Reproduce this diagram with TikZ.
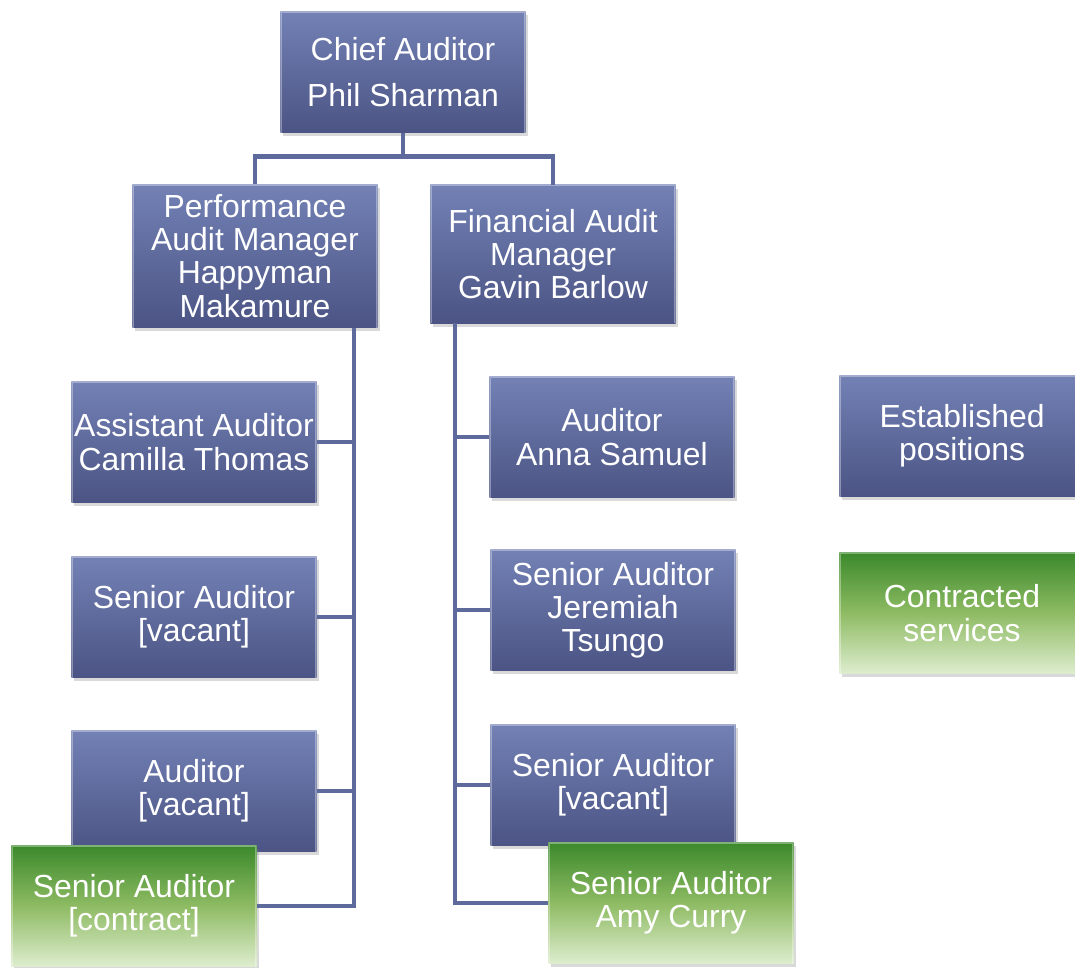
\documentclass[tikz,border=0pt]{standalone}
\usepackage{fontspec}
\setmainfont{Liberation Sans}
\usetikzlibrary{shadows,calc}

\definecolor{posttop}{HTML}{7381B5}
\definecolor{postbot}{HTML}{4B5484}
\definecolor{contop}{HTML}{3B892B}
\definecolor{conmid}{HTML}{8EBB63}
\definecolor{conbot}{HTML}{DEEDCF}
\definecolor{linkcol}{HTML}{5F6A9C}

\tikzset{
  post/.style={rectangle, minimum width=6.125cm, minimum height=3.03cm, inner sep=1pt,
    align=center, text=white, font=\fontsize{22.7}{23.6}\selectfont,
    top color=posttop, bottom color=postbot,
    drop shadow={shadow xshift=1.5pt, shadow yshift=-2.5pt, opacity=0.3},
    path picture={\draw[white, opacity=0.35, line width=2pt]
      (path picture bounding box.south west) |- (path picture bounding box.north east) -- (path picture bounding box.south east);}},
  contract/.style={post, top color=contop, bottom color=conbot, middle color=conmid},
  link/.style={draw=linkcol, line width=3.5pt}
}

\begin{document}
\begin{tikzpicture}[x=0.025cm, y=-0.025cm]
\useasboundingbox (0,0) rectangle (1075,967);

\node[post, font=\fontsize{22.7}{32.6}\selectfont] (chief) at (403,72) {Chief Auditor\\Phil Sharman};
\node[post, minimum height=3.58cm] (perf) at (255,256) {Performance\\Audit Manager\\Happyman\\Makamure};
\node[post, minimum height=3.45cm] (fin) at (553,254) {Financial Audit\\Manager\\Gavin Barlow};

\node[post] (asst) at (194,442) {Assistant Auditor\\Camilla Thomas};
\node[post] (lsen) at (194,617) {Senior Auditor\\{[vacant]}};
\node[post] (laud) at (194,791) {Auditor\\{[vacant]}};
\node[contract] (lcon) at (134,906) {Senior Auditor\\{[contract]}};

\node[post] (anna) at (612,437) {Auditor\\Anna Samuel};
\node[post] (jere) at (613,610) {Senior Auditor\\Jeremiah\\Tsungo};
\node[post] (rsen) at (613,785) {Senior Auditor\\{[vacant]}};
\node[contract] (amy) at (671,903) {Senior Auditor\\Amy Curry};

\node[post] (est) at (962,436) {Established\\positions};
\node[contract] (cons) at (962,613) {Contracted\\services};

\coordinate (ltrunk) at (354,328);
\coordinate (rtrunk) at (455,323);

\draw[link] (chief.south) -- ++(0,24) coordinate (hub) -| (perf.north);
\draw[link] (hub) -| (fin.north);

\foreach \n in {asst,lsen,laud,lcon}
  \draw[link] (perf.south -| ltrunk) |- (\n.east);
\foreach \n in {anna,jere,rsen,amy}
  \draw[link] (fin.south -| rtrunk) |- (\n.west);

\end{tikzpicture}
\end{document}
